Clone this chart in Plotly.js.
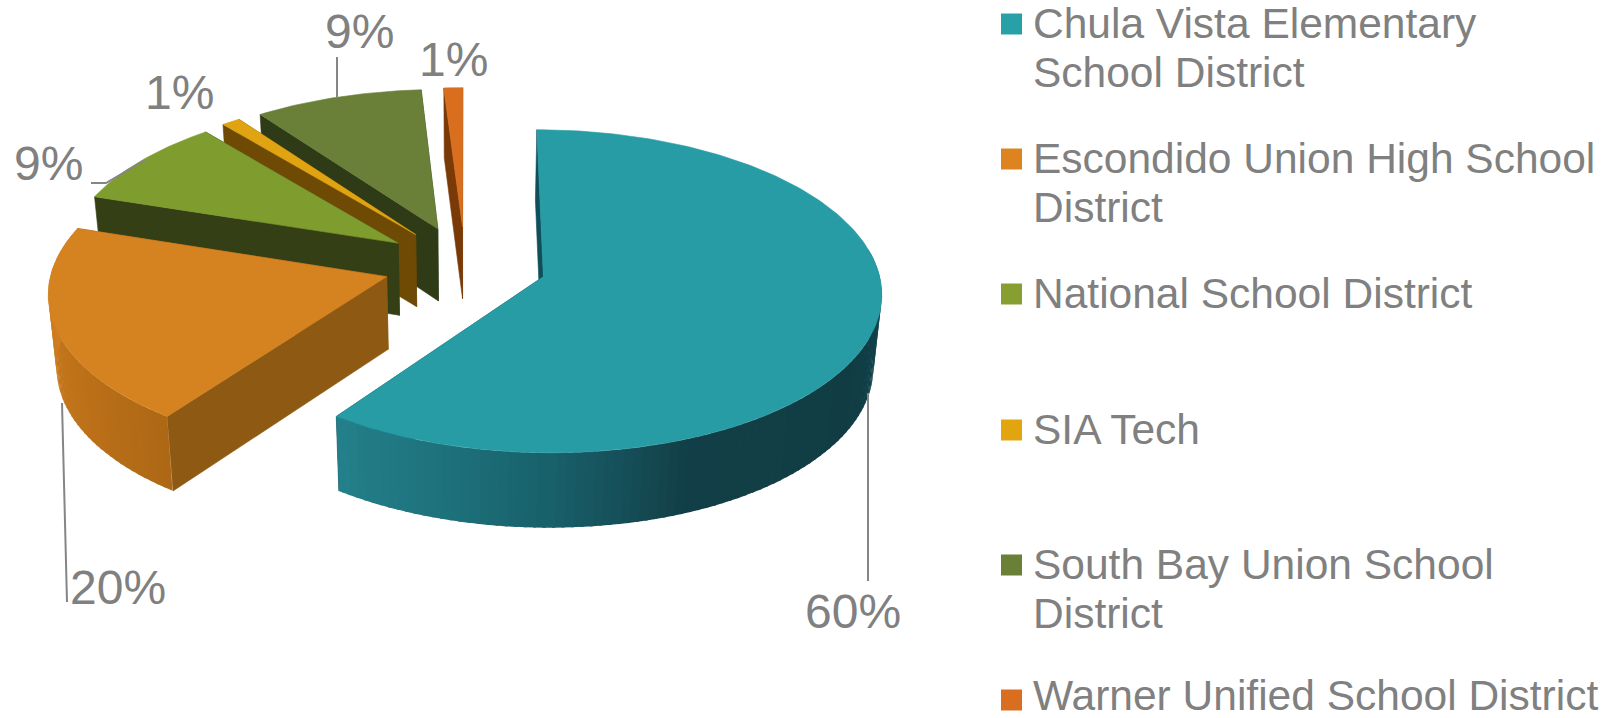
<!DOCTYPE html>
<html>
<head>
<meta charset="utf-8">
<script src="https://cdn.plot.ly/plotly-3.0.1.min.js"></script>
<style>html,body{margin:0;padding:0;background:#fff;overflow:hidden}#chart{width:1620px;height:718px}</style>
</head>
<body>
<div id="chart"></div>
<script>
// ---- data ----
const categories = ['Chula Vista Elementary School District','Escondido Union High School District','National School District','SIA Tech','South Bay Union School District','Warner Unified School District'];
const legendLines = [['Chula Vista Elementary','School District'],['Escondido Union High School','District'],['National School District'],['SIA Tech'],['South Bay Union School','District'],['Warner Unified School District']];
const percents = [60,20,9,1,9,1];

// ---- styles ----
const topColors  = ['#279ca5','#d58220','#7f9c2e','#e0a312','#6a7f38','#d96e1f'];
const keyColors  = ['#27a0a8','#dd8320','#869f30','#e2a510','#6b8037','#da6e20'];
const sideColors = ['#0e4f5a','#8e5a13','#353f15','#6e4a05','#2f3b17','#7a3a08'];
const wallStops = {
  0: [[216,'#23808a'],[195,'#1d707a'],[180,'#18606a'],[168,'#164e58'],[158,'#123f47'],[120,'#113c44'],[80,'#124850']],
  1: [[216,'#ad6815'],[240,'#bd7119'],[270,'#cf7d1f'],[295,'#d27f20']]
};
const textColor = '#808080', leaderColor = '#858585';

// ---- 3D-pie projection: plane (X,Y) to page pixels ----
const P = {x0:465, y0:264.6, f:334, g:158, k:0.09, explode:0.245, depth:72.5, depthK:0.03, baseShrink:0.98};
const rad = d => d*Math.PI/180;
function project(X,Y,down){
  const w = 1+P.k*Y;
  const x = P.f*X/w, y = P.y0-P.g*Y/w;
  return down ? [P.x0+x*P.baseShrink, y+P.depth/(1+P.depthK*Y)] : [P.x0+x, y];
}
function hexMix(a,b,t){
  const p=h=>[1,3,5].map(i=>parseInt(h.substr(i,2),16));
  const A=p(a),B=p(b);
  return 'rgb('+A.map((v,i)=>Math.round(v+(B[i]-v)*t)).join(',')+')';
}
function wallColor(i,th){
  const s=wallStops[i];
  for(let j=0;j<s.length-1;j++){
    const a=s[j],b=s[j+1];
    if((th-a[0])*(th-b[0])<=0) return hexMix(a[1],b[1],(th-a[0])/(b[0]-a[0]));
  }
  return s[s.length-1][1];
}
function poly(pts,color,lw){
  return {type:'scatter',mode:'lines',x:pts.map(p=>p[0]).concat(pts[0][0]),y:pts.map(p=>p[1]).concat(pts[0][1]),
    fill:'toself',fillcolor:color,line:{color:color,width:lw===undefined?0.6:lw},hoverinfo:'skip',showlegend:false};
}

// cumulative angles from the values
const total = percents.reduce((a,b)=>a+b,0);
let acc=0;
const slices = percents.map((v,i)=>{const a=acc/total*360; acc+=v; return {i,a,b:acc/total*360};});

const traces=[];
const STEP=1.5;
// back-to-front drawing order
[5,4,3,2,1,0].forEach(i=>{
  const s=slices[i], mid=rad((s.a+s.b)/2);
  const ox=P.explode*Math.sin(mid), oy=P.explode*Math.cos(mid);
  const pt=(th,down)=>project(ox+Math.sin(rad(th)),oy+Math.cos(rad(th)),down);
  const apex=d=>project(ox,oy,d);
  // the two cut faces
  [s.b,s.a].forEach(th=>traces.push(poly([apex(false),pt(th,false),pt(th,true),apex(true)],sideColors[i])));
  // the outer wall in overlapping strips, front-facing part only
  if(wallStops[i]){
    const from=Math.max(s.a,80), to=s.b;
    for(let th=from;th<to;th+=STEP){
      const e=Math.min(th+STEP+0.6,to);
      const strip=[];
      for(let t=th;t<=e+1e-6;t+=0.5) strip.push(pt(t,false));
      for(let t=e;t>=th-1e-6;t-=0.5) strip.push(pt(t,true));
      traces.push(poly(strip,wallColor(i,th+STEP/2),0));
    }
  }
  // top face
  const face=[apex(false)];
  for(let t=s.a;t<s.b;t+=Math.min(1,(s.b-s.a)/4)) face.push(pt(t,false));
  face.push(pt(s.b,false));
  traces.push(poly(face,topColors[i]));
});

// leader lines
const leaders=[[[868,868],[393,581]],[[62,67],[403,602]],[[91,106,145],[183,183,160]],[[337,337],[57,98]]];
leaders.forEach(l=>traces.push({type:'scatter',mode:'lines',x:l[0],y:l[1],line:{color:leaderColor,width:2},hoverinfo:'skip',showlegend:false}));

// legend keys
const keyX=1011.5, keyY=[24,159,294,430,565,700];
const keyTextY=[23.5,158.5,293.5,429.5,564.5,695];
traces.push({type:'scatter',mode:'markers',x:keyY.map(()=>keyX),y:keyY,text:categories,hoverinfo:'text',
  marker:{symbol:'square',size:21,color:keyColors,line:{width:0}},showlegend:false});

// annotations
const annotations=[];
const labelPos=[[853,611],[118,587],[48,163],[179,92],[359,31],[453,59]];
percents.forEach((v,i)=>annotations.push({x:labelPos[i][0],y:labelPos[i][1],xref:'x',yref:'y',text:v+'%',showarrow:false,
  xanchor:'center',yanchor:'middle',font:{family:'Liberation Sans, Arial, sans-serif',size:48,color:textColor}}));
legendLines.forEach((lines,i)=>lines.forEach((t,j)=>annotations.push({x:1031,y:keyTextY[i]+j*49,xref:'x',yref:'y',text:t,showarrow:false,
  xanchor:'left',yanchor:'middle',font:{family:'Liberation Sans, Arial, sans-serif',size:42.5,color:textColor}})));

Plotly.newPlot('chart',traces,{
  width:1620,height:718,margin:{l:0,r:0,t:0,b:0},paper_bgcolor:'#fff',plot_bgcolor:'#fff',showlegend:false,
  xaxis:{range:[0,1620],visible:false,fixedrange:true},
  yaxis:{range:[718,0],visible:false,fixedrange:true},
  annotations
},{displayModeBar:false});
</script>
</body>
</html>
